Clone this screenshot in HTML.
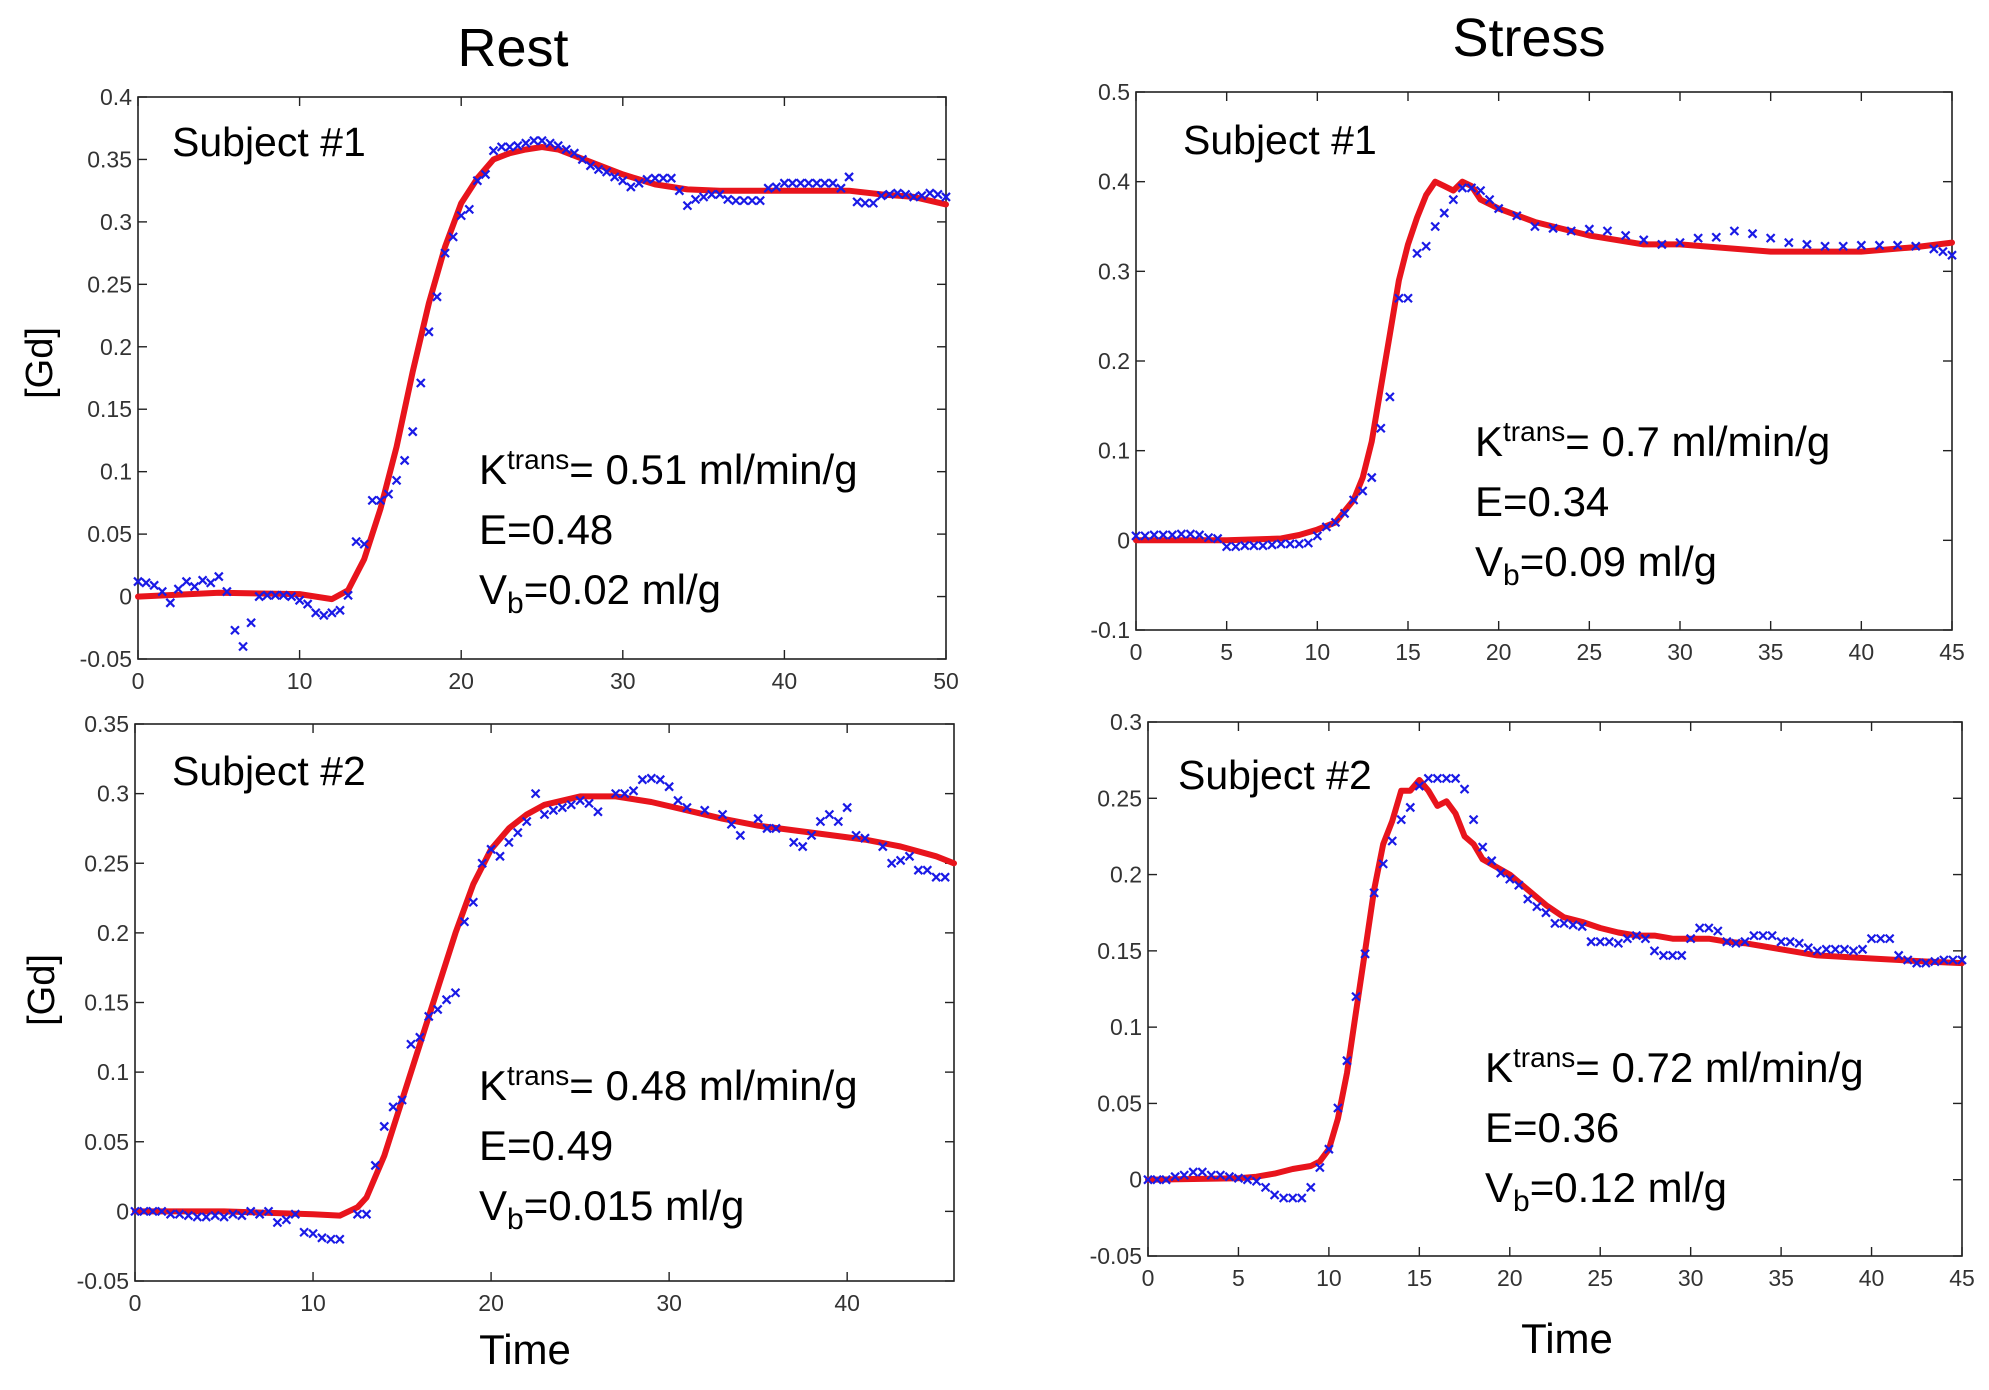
<!DOCTYPE html>
<html><head><meta charset="utf-8"><style>
html,body{margin:0;padding:0;background:#fff;}
svg{display:block;}
.tick{font-family:"Liberation Sans",sans-serif;font-size:23px;fill:#333;}
.ann{font-family:"Liberation Sans",sans-serif;font-size:42px;fill:#000;}
.sub{font-family:"Liberation Sans",sans-serif;font-size:41px;fill:#000;}
</style></head><body>
<svg id="fig" width="1989" height="1390" viewBox="0 0 1989 1390" xmlns="http://www.w3.org/2000/svg">
<text x="513" y="66" text-anchor="middle" font-family="Liberation Sans, sans-serif" font-size="54">Rest</text>
<text x="1529" y="56" text-anchor="middle" font-family="Liberation Sans, sans-serif" font-size="54">Stress</text>
<text transform="translate(52,363) rotate(-90)" text-anchor="middle" font-family="Liberation Sans, sans-serif" font-size="38">[Gd]</text>
<text transform="translate(54,990) rotate(-90)" text-anchor="middle" font-family="Liberation Sans, sans-serif" font-size="38">[Gd]</text>
<text x="525" y="1364" text-anchor="middle" font-family="Liberation Sans, sans-serif" font-size="42">Time</text>
<text x="1567" y="1353" text-anchor="middle" font-family="Liberation Sans, sans-serif" font-size="42">Time</text>
</svg>
<script>
// ---- Rest, Subject #1 ----
const tlDataT=[0,0.5,1,1.5,2,2.5,3,3.5,4,4.5,5,5.5,6,6.5,7,7.5,8,8.5,9,9.5,10,10.5,11,11.5,12,12.5,13,13.5,14,14.5,15,15.5,16,16.5,17,17.5,18,18.5,19,19.5,20,20.5,21,21.5,22,22.5,23,23.5,24,24.5,25,25.5,26,26.5,27,27.5,28,28.5,29,29.5,30,30.5,31,31.5,32,32.5,33,33.5,34,34.5,35,35.5,36,36.5,37,37.5,38,38.5,39,39.5,40,40.5,41,41.5,42,42.5,43,43.5,44,44.5,45,45.5,46,46.5,47,47.5,48,48.5,49,49.5,50];
const tlDataV=[0.012,0.011,0.009,0.004,-0.005,0.006,0.012,0.008,0.013,0.011,0.016,0.004,-0.027,-0.04,-0.021,0,0.001,0.001,0.001,0,-0.003,-0.006,-0.013,-0.015,-0.013,-0.011,0.001,0.044,0.042,0.077,0.077,0.082,0.093,0.109,0.132,0.171,0.212,0.24,0.275,0.288,0.305,0.31,0.333,0.338,0.357,0.36,0.36,0.361,0.363,0.365,0.365,0.363,0.361,0.358,0.355,0.35,0.345,0.342,0.34,0.336,0.333,0.328,0.331,0.334,0.335,0.335,0.335,0.325,0.313,0.318,0.32,0.322,0.322,0.318,0.317,0.317,0.317,0.317,0.327,0.328,0.331,0.331,0.331,0.331,0.331,0.331,0.331,0.327,0.336,0.316,0.315,0.315,0.321,0.322,0.323,0.322,0.32,0.321,0.323,0.322,0.32];
const tlFitT=[0,5,10,12,13,14,15,16,17,18,19,20,21,22,23,24,25,26,28,30,32,34,36,40,44,46,48,50];
const tlFitV=[0,0.003,0.002,-0.002,0.005,0.03,0.07,0.12,0.18,0.235,0.28,0.315,0.335,0.35,0.355,0.358,0.36,0.358,0.348,0.338,0.33,0.326,0.325,0.325,0.325,0.322,0.32,0.314];
const tlYTicks=["-0.05","0","0.05","0.1","0.15","0.2","0.25","0.3","0.35","0.4"];
const tlXTicks=["0","10","20","30","40","50"];
// ---- Stress, Subject #1 ----
const trDataT=[0,0.5,1,1.5,2,2.5,3,3.5,4,4.5,5,5.5,6,6.5,7,7.5,8,8.5,9,9.5,10,10.5,11,11.5,12,12.5,13,13.5,14,14.5,15,15.5,16,16.5,17,17.5,18,18.5,19,19.5,20,21,22,23,24,25,26,27,28,29,30,31,32,33,34,35,36,37,38,39,40,41,42,43,44,44.5,45];
const trDataV=[0.005,0.005,0.006,0.006,0.006,0.007,0.007,0.006,0.003,0.002,-0.007,-0.007,-0.006,-0.006,-0.006,-0.005,-0.004,-0.004,-0.004,-0.003,0.005,0.015,0.02,0.03,0.045,0.055,0.07,0.125,0.16,0.27,0.27,0.32,0.328,0.35,0.365,0.38,0.393,0.393,0.39,0.38,0.37,0.362,0.35,0.348,0.345,0.347,0.345,0.34,0.335,0.33,0.332,0.337,0.338,0.345,0.342,0.337,0.332,0.33,0.328,0.328,0.329,0.329,0.329,0.328,0.325,0.322,0.318];
const trFitT=[0,5,8,9,10,11,12,12.5,13,13.5,14,14.5,15,15.5,16,16.5,17,17.5,18,18.5,19,20,22,25,28,30,35,40,43,45];
const trFitV=[0,0,0.002,0.006,0.012,0.02,0.045,0.07,0.11,0.17,0.23,0.29,0.33,0.36,0.385,0.4,0.395,0.39,0.4,0.395,0.38,0.37,0.355,0.34,0.33,0.33,0.322,0.322,0.327,0.332];
const trYTicks=["-0.1","0","0.1","0.2","0.3","0.4","0.5"];
const trXTicks=["0","5","10","15","20","25","30","35","40","45"];
// ---- Rest, Subject #2 ----
const blDataT=[0,0.5,1,1.5,2,2.5,3,3.5,4,4.5,5,5.5,6,6.5,7,7.5,8,8.5,9,9.5,10,10.5,11,11.5,12.5,13,13.5,14,14.5,15,15.5,16,16.5,17,17.5,18,18.5,19,19.5,20,20.5,21,21.5,22,22.5,23,23.5,24,24.5,25,25.5,26,27,27.5,28,28.5,29,29.5,30,30.5,31,32,33,33.5,34,35,35.5,36,37,37.5,38,38.5,39,39.5,40,40.5,41,42,42.5,43,43.5,44,44.5,45,45.5];
const blDataV=[0,0,0,0,-0.002,-0.002,-0.003,-0.004,-0.004,-0.003,-0.004,-0.002,-0.003,0,-0.002,0,-0.008,-0.006,-0.002,-0.015,-0.016,-0.019,-0.02,-0.02,-0.002,-0.002,0.033,0.061,0.075,0.08,0.12,0.125,0.14,0.145,0.152,0.157,0.208,0.222,0.25,0.26,0.255,0.265,0.272,0.28,0.3,0.285,0.288,0.29,0.292,0.295,0.293,0.287,0.3,0.3,0.302,0.31,0.311,0.31,0.305,0.295,0.29,0.288,0.285,0.278,0.27,0.282,0.275,0.275,0.265,0.262,0.27,0.28,0.285,0.28,0.29,0.27,0.268,0.262,0.25,0.252,0.255,0.245,0.245,0.24,0.24];
const blFitT=[0,5,10,11.5,12.5,13,14,15,16,17,18,19,20,21,22,23,25,27,29,31,33,35,38,41,43,45,46];
const blFitV=[0,0,-0.002,-0.003,0.003,0.01,0.04,0.08,0.12,0.16,0.2,0.235,0.26,0.275,0.285,0.292,0.298,0.298,0.294,0.288,0.282,0.277,0.272,0.267,0.262,0.255,0.25];
const blYTicks=["-0.05","0","0.05","0.1","0.15","0.2","0.25","0.3","0.35"];
const blXTicks=["0","10","20","30","40"];
// ---- Stress, Subject #2 ----
const brDataT=[0,0.5,1,1.5,2,2.5,3,3.5,4,4.5,5,5.5,6,6.5,7,7.5,8,8.5,9,9.5,10,10.5,11,11.5,12,12.5,13,13.5,14,14.5,15,15.5,16,16.5,17,17.5,18,18.5,19,19.5,20,20.5,21,21.5,22,22.5,23,23.5,24,24.5,25,25.5,26,26.5,27,27.5,28,28.5,29,29.5,30,30.5,31,31.5,32,32.5,33,33.5,34,34.5,35,35.5,36,36.5,37,37.5,38,38.5,39,39.5,40,40.5,41,41.5,42,42.5,43,43.5,44,44.5,45];
const brDataV=[0,0,0,0.002,0.003,0.005,0.005,0.003,0.003,0.002,0.001,0,-0.001,-0.005,-0.01,-0.012,-0.012,-0.012,-0.005,0.008,0.02,0.047,0.078,0.12,0.148,0.188,0.207,0.222,0.236,0.244,0.258,0.263,0.263,0.263,0.263,0.256,0.236,0.218,0.209,0.201,0.197,0.193,0.184,0.179,0.175,0.168,0.168,0.167,0.166,0.156,0.156,0.156,0.155,0.158,0.16,0.158,0.15,0.147,0.147,0.147,0.158,0.165,0.165,0.163,0.156,0.155,0.156,0.16,0.16,0.16,0.156,0.156,0.155,0.152,0.15,0.151,0.151,0.151,0.15,0.151,0.158,0.158,0.158,0.147,0.144,0.142,0.142,0.143,0.144,0.144,0.144];
const brFitT=[0,5,6,7,8,9,9.5,10,10.5,11,11.5,12,12.5,13,13.5,14,14.5,15,15.5,16,16.5,17,17.5,18,18.5,20,21,22,23,24,25,26,27,28,29,30,31,32,33,35,37,40,43,45];
const brFitV=[0,0.001,0.002,0.004,0.007,0.009,0.012,0.02,0.04,0.07,0.11,0.15,0.19,0.22,0.235,0.255,0.255,0.262,0.255,0.245,0.248,0.24,0.225,0.22,0.21,0.2,0.19,0.18,0.172,0.169,0.165,0.162,0.16,0.16,0.158,0.158,0.158,0.156,0.155,0.151,0.147,0.145,0.143,0.142];
const brYTicks=["-0.05","0","0.05","0.1","0.15","0.2","0.25","0.3"];
const brXTicks=["0","5","10","15","20","25","30","35","40","45"];

const NS="http://www.w3.org/2000/svg";
const svg=document.getElementById('fig');
function mk(tag,attrs,parent){const e=document.createElementNS(NS,tag);for(const k in attrs)e.setAttribute(k,attrs[k]);(parent||svg).appendChild(e);return e;}

function panel(p){
  const g=mk('g',{});
  
  
  const sx=v=>p.x0+(v-p.xmin)/(p.xmax-p.xmin)*(p.x1-p.x0);
  const sy=v=>p.y1-(v-p.ymin)/(p.ymax-p.ymin)*(p.y1-p.y0);
  const box=mk('rect',{x:p.x0,y:p.y0,width:p.x1-p.x0,height:p.y1-p.y0,fill:'#fff',stroke:'#222','stroke-width':1.6},g);
  
  
  p.yt.forEach(s=>{const v=parseFloat(s),y=sy(v);
    mk('line',{x1:p.x0,x2:p.x0+9,y1:y,y2:y,stroke:'#222','stroke-width':1.4},g);
    mk('line',{x1:p.x1,x2:p.x1-9,y1:y,y2:y,stroke:'#222','stroke-width':1.4},g);
    const t=mk('text',{x:p.x0-6,y:y+8,'text-anchor':'end',class:'tick'},g);t.textContent=s;
    
    
  });
  p.xt.forEach(s=>{const v=parseFloat(s),x=sx(v);
    mk('line',{x1:x,x2:x,y1:p.y1,y2:p.y1-9,stroke:'#222','stroke-width':1.4},g);
    mk('line',{x1:x,x2:x,y1:p.y0,y2:p.y0+9,stroke:'#222','stroke-width':1.4},g);
    const t=mk('text',{x:x,y:p.y1+30,'text-anchor':'middle',class:'tick'},g);t.textContent=s;
    
    
  });
  let d='';p.ft.forEach((t,i)=>{d+=(i?'L':'M')+sx(t).toFixed(1)+','+sy(p.fv[i]).toFixed(1);});
  const fit=mk('path',{d:d,fill:'none',stroke:'#e8141c','stroke-width':6,'stroke-linejoin':'round','stroke-linecap':'round'},g);
  
  
  p.dt.forEach((t,i)=>{const x=sx(t),y=sy(p.dv[i]),r=4;
    const m=mk('path',{d:`M${x-r},${y-r}L${x+r},${y+r}M${x-r},${y+r}L${x+r},${y-r}`,stroke:'#1a1ae6','stroke-width':2.2,fill:'none'},g);
    
    
  });
  const st=mk('text',{x:p.sub[0],y:p.sub[1],class:'sub'},g);st.textContent=p.subText;
  
  
  const [ax,ay]=p.ann;
  const k=mk('text',{x:ax,y:ay,class:'ann'},g);
  k.innerHTML='K<tspan dy="-15" font-size="28">trans</tspan><tspan dy="15">= '+p.k+'</tspan>';
  
  
  const e=mk('text',{x:ax,y:ay+60,class:'ann'},g);e.textContent='E='+p.e;
  
  
  const vb=mk('text',{x:ax,y:ay+120,class:'ann'},g);
  vb.innerHTML='V<tspan dy="9" font-size="30">b</tspan><tspan dy="-9">='+p.vb+'</tspan>';
  
  
}
panel({name:'rest-subject1-chart',x0:138,x1:946,y0:97,y1:659,xmin:0,xmax:50,ymin:-0.05,ymax:0.4,yt:tlYTicks,xt:tlXTicks,dt:tlDataT,dv:tlDataV,ft:tlFitT,fv:tlFitV,sub:[172,156],subText:'Subject #1',ann:[479,484],k:'0.51 ml/min/g',e:'0.48',vb:'0.02 ml/g'});
panel({name:'stress-subject1-chart',x0:1136,x1:1952,y0:92,y1:630,xmin:0,xmax:45,ymin:-0.1,ymax:0.5,yt:trYTicks,xt:trXTicks,dt:trDataT,dv:trDataV,ft:trFitT,fv:trFitV,sub:[1183,154],subText:'Subject #1',ann:[1475,456],k:'0.7 ml/min/g',e:'0.34',vb:'0.09 ml/g'});
panel({name:'rest-subject2-chart',x0:135,x1:954,y0:724,y1:1281,xmin:0,xmax:46,ymin:-0.05,ymax:0.35,yt:blYTicks,xt:blXTicks,dt:blDataT,dv:blDataV,ft:blFitT,fv:blFitV,sub:[172,785],subText:'Subject #2',ann:[479,1100],k:'0.48 ml/min/g',e:'0.49',vb:'0.015 ml/g'});
panel({name:'stress-subject2-chart',x0:1148,x1:1962,y0:722,y1:1256,xmin:0,xmax:45,ymin:-0.05,ymax:0.3,yt:brYTicks,xt:brXTicks,dt:brDataT,dv:brDataV,ft:brFitT,fv:brFitV,sub:[1178,789],subText:'Subject #2',ann:[1485,1082],k:'0.72 ml/min/g',e:'0.36',vb:'0.12 ml/g'});
</script>
</body></html>
